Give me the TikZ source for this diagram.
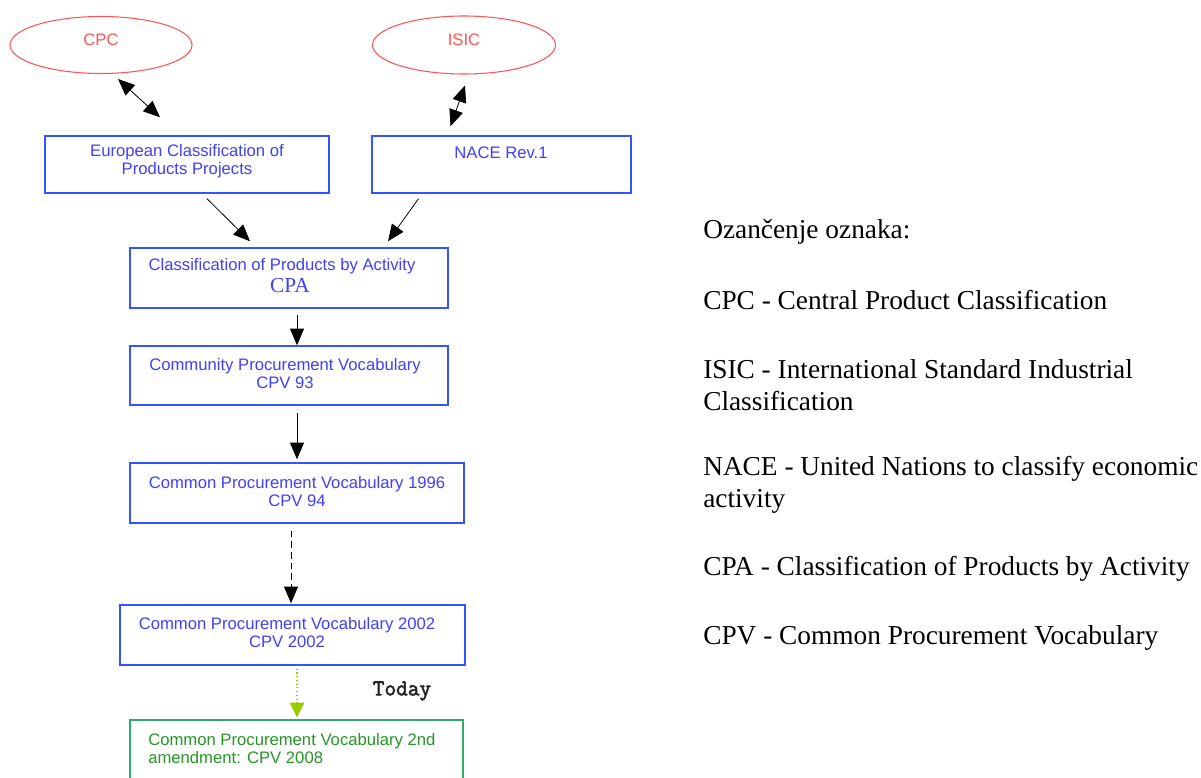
\documentclass[tikz,border=0pt]{standalone}
\usepackage{fontspec}
\setmainfont{Liberation Serif}
\newfontfamily\arialf{Liberation Sans}
\newfontfamily\todayf[FakeBold=2.5]{Latin Modern Mono}
\usetikzlibrary{shapes.geometric,arrows.meta,calc}
\definecolor{boxblue}{RGB}{51,85,255}
\definecolor{txtblue}{RGB}{64,64,250}
\definecolor{ovalred}{RGB}{255,85,85}
\definecolor{boxgreen}{RGB}{50,170,110}
\definecolor{txtgreen}{RGB}{40,150,40}
\definecolor{limeg}{RGB}{153,204,0}
\begin{document}
\begin{tikzpicture}[x=0.75pt,y=-0.75pt,
  oval/.style={draw=ovalred,ellipse,line width=0.8pt,inner sep=0pt,text=ovalred,font=\arialf\fontsize{12.5}{13.5}\selectfont},
  bluebox/.style={draw=boxblue,line width=1.1pt,rectangle,inner sep=0pt},
  greenbox/.style={draw=boxgreen,line width=1.1pt,rectangle,inner sep=0pt},
  btext/.style={text=txtblue,align=center,inner sep=0pt,font=\arialf\fontsize{12.5}{13.5}\selectfont},
  gtext/.style={text=txtgreen,align=left,inner sep=0pt,font=\arialf\fontsize{12.5}{13.5}\selectfont},
  legend/.style={anchor=west,align=left,inner sep=0pt,font=\fontsize{20.5}{24}\selectfont},
  arr/.style={-{Triangle[length=12.5pt,width=10.5pt]},line width=0.6pt,black},
  darr/.style={{Triangle[length=12.5pt,width=10.5pt]}-{Triangle[length=12.5pt,width=10.5pt]},line width=0.6pt,black}
]
\clip (0,0) rectangle (1201,777);
\fill[white] (0,0) rectangle (1201,777);

% ovals
\node[oval,minimum width=182*0.75pt,minimum height=57*0.75pt] (cpc) at (101,45) {};
\node[oval,minimum width=183*0.75pt,minimum height=58*0.75pt] (isic) at (464,45) {};
\node[text=ovalred,font=\arialf\fontsize{12.5}{13.5}\selectfont,inner sep=0pt] (cpct) at (101,40) {CPC};
\node[text=ovalred,font=\arialf\fontsize{12.5}{13.5}\selectfont,inner sep=0pt] (isict) at (464,40) {ISIC};

% boxes
\node[bluebox,minimum width=284*0.75pt,minimum height=57*0.75pt] (eu) at (187,164.5) {};
\node[bluebox,minimum width=259*0.75pt,minimum height=57*0.75pt] (nace) at (501.5,164.5) {};
\node[bluebox,minimum width=318*0.75pt,minimum height=60*0.75pt] (cpa) at (289,278) {};
\node[bluebox,minimum width=318*0.75pt,minimum height=59*0.75pt] (cpv93) at (289,375.5) {};
\node[bluebox,minimum width=334*0.75pt,minimum height=60*0.75pt] (cpv94) at (297,493) {};
\node[bluebox,minimum width=345*0.75pt,minimum height=60*0.75pt] (cpv02) at (292.5,635) {};
\node[greenbox,minimum width=333*0.75pt,minimum height=80*0.75pt] (cpv08) at (296.5,760) {};

% box texts
\node[btext] (eut) at (187,161.5) {European Classification of\\Products Projects};
\node[btext] (nacet) at (501,153) {NACE Rev.1};
\node[btext] (cpat) at (282,266) {Classification of Products by Activity};
\node[text=txtblue,inner sep=0pt,font=\fontsize{16}{17}\selectfont] (cpat2) at (290,286) {CPA};
\node[btext] (cpv93t) at (285,374) {Community Procurement Vocabulary\\CPV 93};
\node[btext] (cpv94t) at (297,491.5) {Common Procurement Vocabulary 1996\\CPV 94};
\node[btext] (cpv02t) at (287,632.5) {Common Procurement Vocabulary 2002\\CPV 2002};
\node[gtext,anchor=west] (cpv08t) at (148,749) {Common Procurement Vocabulary 2nd\\amendment: CPV 2008};
\node[inner sep=0pt,text=black!85,font=\todayf\fontsize{17}{18}\selectfont] (today) at (402,691) {Today};

% connectors
\draw[darr] ([shift={(17,5)}]cpc.south) -- ([shift={(-27,-18)}]eu.north);
\draw[darr] ([shift={(1,11)}]isic.south) -- ([shift={(-51,-9)}]nace.north);
\draw[arr] ([shift={(20,5)}]eu.south) -- ([shift={(-39,-6)}]cpa.north);
\draw[arr] ([shift={(-83,5)}]nace.south) -- ([shift={(99,-6)}]cpa.north);
\draw[arr] ([shift={(8,6)}]cpa.south) -- ([shift={(8,0)}]cpv93.north);
\draw[arr] ([shift={(8,7)}]cpv93.south) -- ([shift={(0,-3)}]cpv94.north);
\draw[arr,dash pattern=on 5pt off 3pt] ([shift={(-6,7)}]cpv94.south) -- ([shift={(-1.5,-1)}]cpv02.north);
\draw[-{Triangle[length=11pt,width=11pt]},color=limeg,line width=0.8pt,dotted] ([shift={(4.5,3)}]cpv02.south) -- ([shift={(0.5,-2)}]cpv08.north);

% legend
\node[legend] (l0) at (703,232) {Ozančenje oznaka:};
\node[legend] (l1) at (703,300) {CPC - Central Product Classification};
\node[legend] (l2) at (703,385) {ISIC - International Standard Industrial\\Classification};
\node[legend] (l3) at (703,485) {NACE - United Nations to classify economic\\activity};
\node[legend] (l4) at (703,569) {CPA - Classification of Products by Activity};
\node[legend] (l5) at (703,638) {CPV - Common Procurement Vocabulary};
\end{tikzpicture}
\end{document}
